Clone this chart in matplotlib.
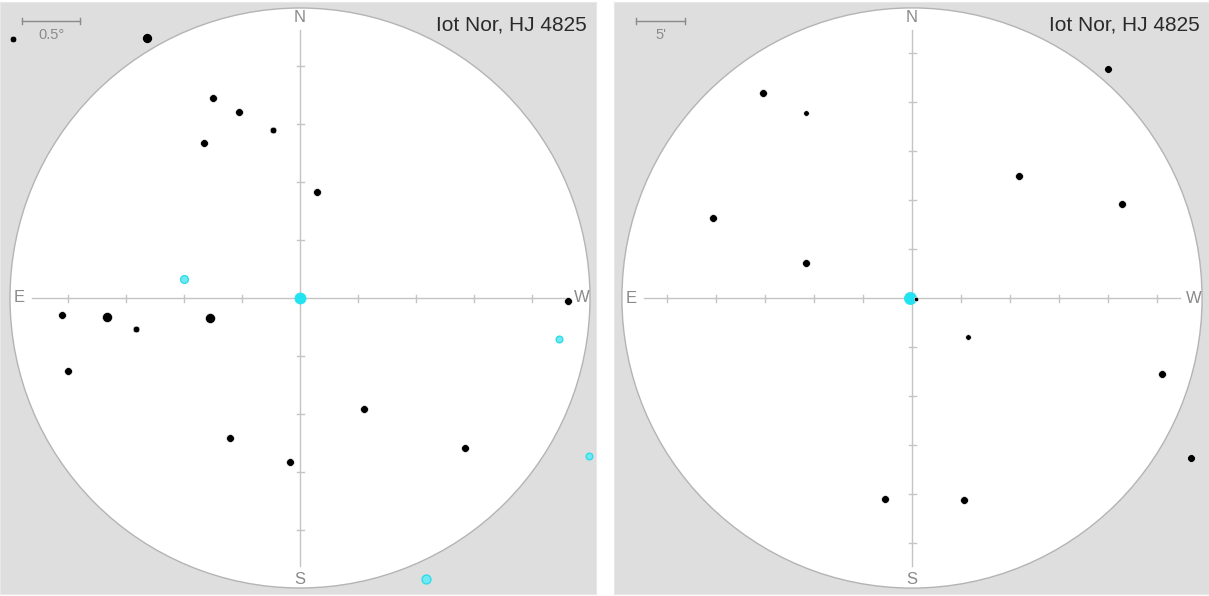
import matplotlib
matplotlib.use("Agg")
import matplotlib.pyplot as plt
from matplotlib.patches import Circle

title = "Iot Nor, HJ 4825"

# left field, offsets in degrees (x: towards W = right, y: towards N = up)
left_x = [-2.47, -1.32, -0.75, -0.53, -0.83, -0.23, 0.15, -1.00, 0.00, -2.05, -1.66,
          -1.41, -0.78, 2.31, -2.00, 2.23, 0.55, -0.60, -0.09, 1.42, 2.49, 1.09]
left_y = [2.23, 2.24, 1.72, 1.60, 1.34, 1.45, 0.91, 0.16, 0.00, -0.15, -0.16,
          -0.27, -0.17, -0.03, -0.63, -0.35, -0.96, -1.21, -1.41, -1.29, -1.36, -2.42]
left_size = [6, 9, 7, 7, 7, 6, 7, 7, 10, 7, 9, 6, 9, 7, 7, 6, 7, 7, 7, 7, 6, 8]
left_kind = ['k', 'k', 'k', 'k', 'k', 'k', 'k', 'c', 'C', 'k', 'k',
             'k', 'k', 'k', 'k', 'c', 'k', 'k', 'k', 'k', 'c', 'c']

# right field, offsets in arcminutes
right_x = [-15.2, -10.8, 20.0, 10.9, 21.4, -20.3, -10.8, -0.2, 0.4, 5.7, 25.5, 28.5, -2.8, 5.3]
right_y = [20.9, 18.9, 23.4, 12.4, 9.6, 8.2, 3.6, 0.0, -0.1, -4.0, -7.8, -16.3, -20.5, -20.6]
right_size = [7, 5, 7, 7, 7, 7, 7, 11, 4, 5, 7, 7, 7, 7]
right_kind = ['k', 'k', 'k', 'k', 'k', 'k', 'k', 'C', 'k', 'k', 'k', 'k', 'k', 'k']

W, H = 1209, 596
fig = plt.figure(figsize=(W / 100, H / 100), dpi=100)
fig.patch.set_facecolor('white')

GRAY_BG = '#dedede'
LINE = '#c4c4c4'
TXT = '#8a8a8a'


def draw_panel(px0, px1, cx, ppu, radius, step, bar_label, xs, ys, sizes, kinds):
    # panel spans pixels px0..px1 horizontally, 2..594 vertically
    ax = fig.add_axes([px0 / W, 2 / H, (px1 - px0) / W, 592 / H])
    ax.set_facecolor(GRAY_BG)
    ax.set_xlim(-(cx - px0) / ppu, (px1 - cx) / ppu)
    ax.set_ylim(-296 / ppu, 296 / ppu)
    ax.set_xticks([])
    ax.set_yticks([])
    for s in ax.spines.values():
        s.set_color('#e8e8e8')

    ax.add_patch(Circle((0, 0), radius, facecolor='white', edgecolor='#b4b4b4', lw=1.0, zorder=1))

    r_line = radius * 0.925
    ax.plot([-r_line, r_line], [0, 0], color=LINE, lw=1.0, zorder=2)
    ax.plot([0, 0], [-r_line, r_line], color=LINE, lw=1.0, zorder=2)
    tl = 3.5 / ppu
    k = 1
    while k * step < r_line - 1e-9:
        for sgn in (-1, 1):
            d = sgn * k * step
            ax.plot([d, d], [-tl, tl], color=LINE, lw=1.0, zorder=2)
            ax.plot([-tl, tl], [d, d], color=LINE, lw=1.0, zorder=2)
        k += 1

    lr = 281 / ppu
    lab = dict(color=TXT, fontsize=12, ha='center', va='center', family='Liberation Sans', zorder=3)
    ax.text(0, lr, 'N', **lab)
    ax.text(0, -lr, 'S', **lab)
    ax.text(-lr, 0, 'E', **lab)
    ax.text(lr + 1 / ppu, 0, 'W', **lab)

    # scale bar
    xl = ax.get_xlim()[0]
    yt = ax.get_ylim()[1]
    bx0 = xl + 22 / ppu
    by = yt - 19 / ppu
    cap = 3 / ppu
    ax.plot([bx0, bx0 + step], [by, by], color=TXT, lw=1.0, zorder=3)
    ax.plot([bx0, bx0], [by - cap, by + cap], color=TXT, lw=1.0, zorder=3)
    ax.plot([bx0 + step, bx0 + step], [by - cap, by + cap], color=TXT, lw=1.0, zorder=3)
    ax.text(bx0 + step / 2, by - 14 / ppu, bar_label, color=TXT, fontsize=10.5,
            ha='center', va='center', family='Liberation Sans', zorder=3)

    ax.text(ax.get_xlim()[1] - 9 / ppu, yt - 23 / ppu, title, color='#2a2a2a', fontsize=15,
            ha='right', va='center', family='Liberation Sans', zorder=3)

    for x, y, s, kd in zip(xs, ys, sizes, kinds):
        ms = s * 0.8
        if kd == 'k':
            ax.plot(x, y, 'o', ms=ms, mfc='black', mec='white', mew=0.4, zorder=5)
        elif kd == 'c':
            ax.plot(x, y, 'o', ms=ms, mfc='#72e9f2', mec='#2ddde9', mew=1.0, zorder=5)
        else:
            ax.plot(x, y, 'o', ms=ms, mfc='#22e3f0', mec='#22e3f0', mew=0.5, zorder=4)
    return ax


draw_panel(0, 596, 300, 116.0, 2.5, 0.5, '0.5°', left_x, left_y, left_size, left_kind)
draw_panel(614, 1209, 912, 9.8, 29.6, 5, "5'", right_x, right_y, right_size, right_kind)

fig.savefig('out.png', dpi=100, facecolor='white')
